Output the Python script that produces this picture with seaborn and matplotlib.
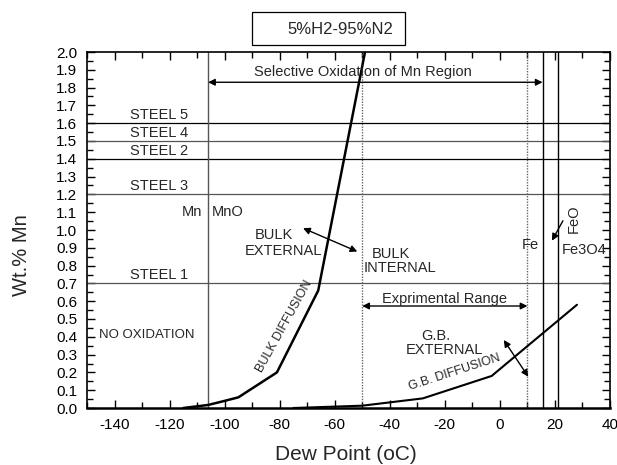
import matplotlib
matplotlib.use("Agg")
import matplotlib.pyplot as plt
import seaborn as sns
import pandas as pd
from matplotlib.patches import Rectangle
from matplotlib.ticker import MultipleLocator, FormatStrFormatter

sns.set_theme(style="ticks")
plt.rcParams["font.family"] = ["Liberation Sans", "DejaVu Sans"]
plt.rcParams["axes.unicode_minus"] = False

# Bulk diffusion boundary (dew point in oC, Mn wt.%)
bulk_dp = [-115, -106, -100, -95, -81, -66, -49]
bulk_mn = [0.0, 0.017, 0.04, 0.06, 0.2, 0.66, 2.0]

# Grain-boundary diffusion boundary
gb_dp = [-75, -50, -28, -3, 28]
gb_mn = [0.0, 0.013, 0.054, 0.18, 0.58]

# Steel compositions (Mn wt.%)
steel_names = ["STEEL 5", "STEEL 4", "STEEL 2", "STEEL 3", "STEEL 1"]
steel_mn = [1.6, 1.5, 1.4, 1.2, 0.7]
steel_colors = ["black", "#555555", "black", "#555555", "#555555"]

# Equilibrium lines and experimental range limits (dew point, oC)
mn_mno_dp = -106
fe_feo_dp = [15.5, 21]
exp_range = [-50, 10]

df_bulk = pd.DataFrame({"dp": bulk_dp, "mn": bulk_mn})
df_gb = pd.DataFrame({"dp": gb_dp, "mn": gb_mn})

FS = 10.5

fig = plt.figure(figsize=(6.17, 4.65), dpi=100)
ax = fig.add_axes([87 / 617, 1 - 408 / 465, 523 / 617, 356 / 465])

sns.lineplot(data=df_bulk, x="dp", y="mn", ax=ax, color="black", lw=1.8,
             sort=False, estimator=None)
sns.lineplot(data=df_gb, x="dp", y="mn", ax=ax, color="black", lw=1.5,
             sort=False, estimator=None)

for name, mn, c in zip(steel_names, steel_mn, steel_colors):
    ax.axhline(mn, color=c, lw=0.9, zorder=1)
    ax.text(-124, mn + 0.045, name, ha="center", va="center", fontsize=FS)

ax.axvline(mn_mno_dp, color="#555555", lw=1.0, zorder=1)
for x in fe_feo_dp:
    ax.axvline(x, color="black", lw=1.0, zorder=1)
for x in exp_range:
    ax.axvline(x, color="#666666", lw=1.0, ls=(0, (1, 1)), zorder=1)

arrow2 = dict(arrowstyle="<|-|>", color="black", lw=1.0, mutation_scale=10,
              shrinkA=0, shrinkB=0)
arrow1 = dict(arrowstyle="-|>", color="black", lw=1.0, mutation_scale=10,
              shrinkA=0, shrinkB=0)

ax.annotate("", xy=(mn_mno_dp, 1.83), xytext=(fe_feo_dp[0], 1.83), arrowprops=arrow2)
ax.text(-49.7, 1.885, "Selective Oxidation of Mn Region", ha="center", va="center",
        fontsize=FS)

ax.annotate("", xy=(exp_range[0], 0.573), xytext=(exp_range[1], 0.573), arrowprops=arrow2)
ax.text(-20, 0.615, "Exprimental Range", ha="center", va="center", fontsize=FS)

ax.annotate("", xy=(-71.5, 1.01), xytext=(-51.8, 0.879), arrowprops=arrow2)
ax.annotate("", xy=(1.4, 0.382), xytext=(10.3, 0.176), arrowprops=arrow2)
ax.annotate("", xy=(18.9, 0.94), xytext=(22.9, 1.052), arrowprops=arrow1)

ax.text(-108.3, 1.103, "Mn", ha="right", va="center", fontsize=FS)
ax.text(-104.5, 1.10, "MnO", ha="left", va="center", fontsize=FS)
ax.text(-128.3, 0.41, "NO OXIDATION", ha="center", va="center", fontsize=9.5)
ax.text(-82.1, 0.972, "BULK", ha="center", va="center", fontsize=FS)
ax.text(-78.8, 0.88, "EXTERNAL", ha="center", va="center", fontsize=FS)
ax.text(-39.7, 0.865, "BULK", ha="center", va="center", fontsize=FS)
ax.text(-36.4, 0.785, "INTERNAL", ha="center", va="center", fontsize=FS)
ax.text(-23.4, 0.404, "G.B.", ha="center", va="center", fontsize=FS)
ax.text(-20.1, 0.326, "EXTERNAL", ha="center", va="center", fontsize=FS)
ax.text(-78.4, 0.46, "BULK DIFFUSION", ha="center", va="center", fontsize=9,
        rotation=61)
ax.text(-16.5, 0.2, "G.B. DIFFUSION", ha="center", va="center", fontsize=9,
        rotation=18)
ax.text(14, 0.916, "Fe", ha="right", va="center", fontsize=FS)
ax.text(22.5, 0.89, "Fe3O4", ha="left", va="center", fontsize=FS)
ax.text(26.7, 1.066, "FeO", ha="center", va="center", fontsize=FS, rotation=90)

ax.set_xlim(-150, 40)
ax.set_ylim(0, 2.0)
ax.xaxis.set_major_locator(MultipleLocator(20))
ax.xaxis.set_minor_locator(MultipleLocator(10))
ax.yaxis.set_major_locator(MultipleLocator(0.1))
ax.yaxis.set_minor_locator(MultipleLocator(0.05))
ax.yaxis.set_major_formatter(FormatStrFormatter("%.1f"))
ax.tick_params(which="both", direction="in", top=True, right=True, colors="black",
               labelsize=11, width=1.0)
ax.tick_params(which="major", length=6)
ax.tick_params(which="minor", length=4)
ax.tick_params(axis="x", pad=7)
ax.tick_params(axis="y", pad=7)
for s in ax.spines.values():
    s.set_color("black")
    s.set_linewidth(1.2)
ax.spines["bottom"].set_linewidth(1.8)

ax.set_xlabel("Dew Point (oC)", fontsize=15)
ax.set_ylabel("Wt.% Mn", fontsize=14.5)
ax.xaxis.set_label_coords(0.495, -0.105)
ax.yaxis.set_label_coords(-0.108, 0.43)

# Atmosphere label box
fig.patches.append(Rectangle((251.7 / 617, 1 - 45 / 465), 153.6 / 617, 33.3 / 465,
                             transform=fig.transFigure, fc="white", ec="black",
                             lw=0.9))
fig.text(340 / 617, 1 - 29 / 465, "5%H2-95%N2", ha="center", va="center",
         fontsize=12)

fig.savefig("out.png", dpi=100)
